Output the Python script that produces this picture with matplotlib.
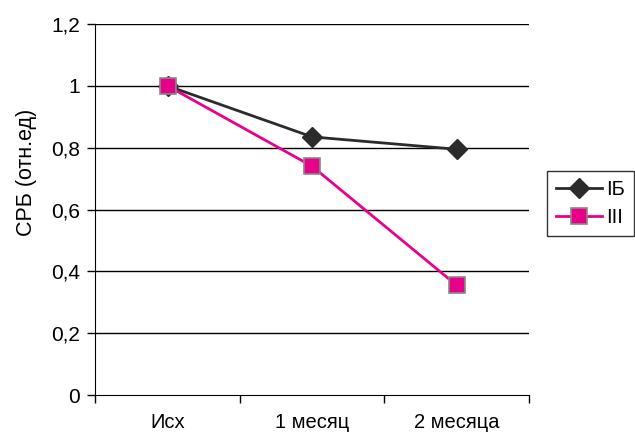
import numpy as np
import matplotlib.pyplot as plt

plt.rcParams['font.family'] = ['Liberation Sans', 'DejaVu Sans']

categories = ["Исх", "1 месяц", "2 месяца"]
ib = [1.0, 0.835, 0.795]
iii = [1.0, 0.74, 0.355]
yticks = [0, 0.2, 0.4, 0.6, 0.8, 1.0, 1.2]
ytick_labels = ["0", "0,2", "0,4", "0,6", "0,8", "1", "1,2"]

fig = plt.figure(figsize=(6.35, 4.37), dpi=100)
ax = fig.add_axes([0.150, 0.096, 0.683, 0.849])

x = np.arange(len(categories))
ax.plot(x, ib, color="#2b2b2b", lw=2, marker="D", ms=10,
        mfc="#2b2b2b", mec="#2b2b2b", label="IБ", zorder=3)
ax.plot(x, iii, color="#e8008a", lw=2, marker="s", ms=11,
        mfc="#e8008a", mec="#888888", mew=1.2, label="III", zorder=4)

ax.set_xlim(-0.5, len(categories) - 0.5)
ax.set_ylim(0, 1.2)
ax.set_yticks(yticks)
ax.set_yticklabels(ytick_labels, fontsize=15)
for y in yticks[1:]:
    ax.axhline(y, color="black", lw=1, zorder=1)

ax.set_xticks(np.arange(-0.5, len(categories)), labels=[""] * (len(categories) + 1))
ax.set_xticks(x, minor=True)
ax.set_xticklabels(categories, minor=True, fontsize=14.5)
ax.tick_params(axis="x", which="minor", length=0, pad=13)
ax.tick_params(axis="x", which="major", length=6, width=1, direction="out")
ax.tick_params(axis="y", length=6, width=1, direction="out", pad=5)

ax.spines["top"].set_visible(False)
ax.spines["right"].set_visible(False)

ax.set_ylabel("СРБ (отн.ед)", fontsize=15.5)
ax.yaxis.set_label_coords(-0.135, 0.6)

fig.legend(loc="upper left", bbox_to_anchor=(547 / 635, 1 - 171 / 437), frameon=True,
           fancybox=False, edgecolor="black", fontsize=14.5, handlelength=2.3,
           handletextpad=0.2, borderpad=0.45, labelspacing=0.45, borderaxespad=0)

fig.savefig("out.png", dpi=100)
